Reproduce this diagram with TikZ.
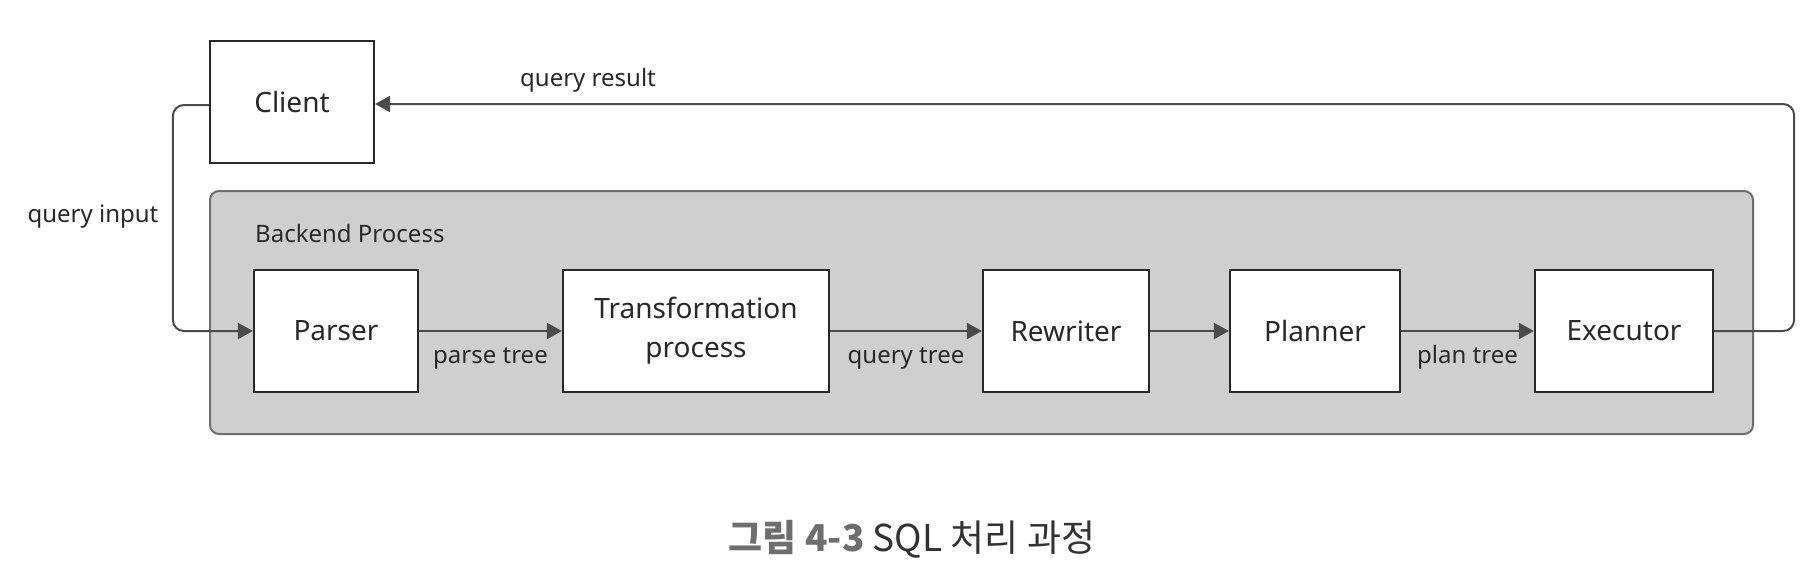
\documentclass[tikz,border=0pt]{standalone}
\usepackage{fontspec}
\setmainfont{Noto Sans}
\newfontfamily\krfont{Noto Sans CJK KR}
\usetikzlibrary{arrows.meta}
\definecolor{bgfill}{RGB}{207,207,207}
\definecolor{bgline}{RGB}{110,110,110}
\definecolor{boxline}{RGB}{40,40,40}
\definecolor{lnc}{RGB}{75,75,75}
\definecolor{txt}{RGB}{40,40,40}
\definecolor{capgray}{RGB}{110,110,110}
\definecolor{capdark}{RGB}{50,50,50}
\begin{document}
\begin{tikzpicture}[x=1pt,y=-1pt,
  box/.style={draw=boxline, fill=white, line width=2.2pt, inner sep=0pt,
    minimum height=122pt, font=\fontsize{28}{39}\selectfont, text=txt, align=center},
  container/.style={draw=bgline, fill=bgfill, line width=2pt, rounded corners=9pt,
    inner sep=0pt, minimum width=1543pt, minimum height=243pt},
  conn/.style={draw=lnc, line width=2pt, -{Triangle[length=15pt,width=16pt]}},
  lbl/.style={font=\fontsize{24}{28}\selectfont, text=txt, inner sep=0pt},
  elbl/.style={lbl, anchor=base, yshift=-32pt}]
\useasboundingbox (0,0) rectangle (1820,586);
\fill[white] (0,0) rectangle (1820,586);

\node[container] (backend) at (981.5,312.5) {};
\node[lbl, anchor=west] (bp) at (255,233) {Backend Process};

\node[box, minimum width=164pt] (client) at (292,102) {Client};
\node[box, minimum width=164pt] (parser) at (336,331) {Parser};
\node[box, minimum width=266pt] (transf) at (696,331) {Transformation\\process};
\node[box, minimum width=166pt] (rewriter) at (1066,331) {Rewriter};
\node[box, minimum width=170pt] (planner) at (1315,331) {Planner};
\node[box, minimum width=178pt] (executor) at (1624,331) {Executor};

\draw[conn] (parser) -- node[elbl] {parse tree} (transf);
\draw[conn] (transf) -- node[elbl] {query tree} (rewriter);
\draw[conn] (rewriter) -- (planner);
\draw[conn] (planner) -- node[elbl] {plan tree} (executor);

\draw[conn, rounded corners=11pt] ([yshift=-3pt]client.west) -- ++(-36,0) |- (parser.west);
\draw[conn, rounded corners=11pt] (executor.east) -- ++(80,0) |- ([yshift=-2pt]client.east);

\node[lbl] (qin) at (93,217) {query input};
\node[lbl] (qres) at (588,80) {query result};

\node[font=\krfont\fontsize{37}{42}\selectfont, text=capdark] (cap) at (912,539)
  {{\color{capgray}\bfseries 그림 4-3} SQL 처리 과정};
\end{tikzpicture}
\end{document}
